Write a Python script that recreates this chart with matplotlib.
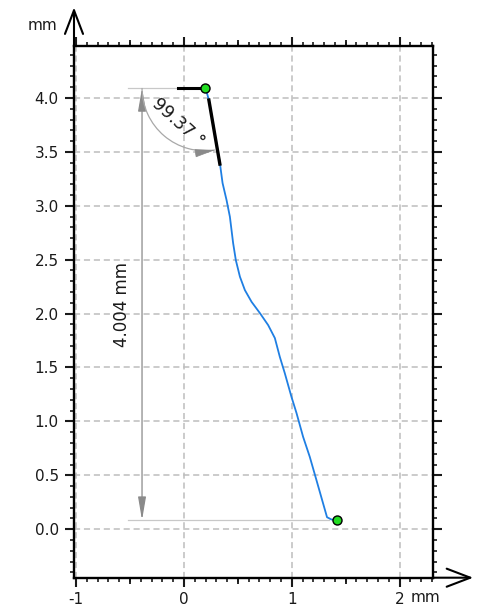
import matplotlib
matplotlib.use("Agg")
import matplotlib.pyplot as plt
from matplotlib.patches import Arc
from matplotlib.ticker import MultipleLocator
import numpy as np

# traced profile, mm
curve_x = [0.194, 0.212, 0.231, 0.260, 0.287, 0.312, 0.333, 0.358, 0.395, 0.426, 0.456,
           0.481, 0.519, 0.565, 0.627, 0.704, 0.781, 0.843, 0.889, 0.935, 0.997,
           1.044, 1.105, 1.167, 1.229, 1.290, 1.327, 1.368, 1.419]
curve_y = [4.093, 4.050, 3.981, 3.820, 3.657, 3.520, 3.397, 3.211, 3.053, 2.898, 2.654,
           2.496, 2.342, 2.218, 2.109, 2.005, 1.893, 1.773, 1.599, 1.448, 1.228,
           1.077, 0.857, 0.671, 0.455, 0.241, 0.111, 0.090, 0.084]

start_pt = (0.194, 4.093)
end_pt = (1.419, 0.084)
arm_x = [-0.056, 0.194]
tangent_x = [0.231, 0.333]
tangent_y = [3.981, 3.387]
angle_deg = 99.37
dist_mm = 4.004

x_ticks = [-1, 0, 1, 2]
x_half_ticks = [-0.5, 0.5, 1.5]
y_ticks = [0.0, 0.5, 1.0, 1.5, 2.0, 2.5, 3.0, 3.5, 4.0]

plt.rcParams['font.family'] = ['DejaVu Sans']
txt_col = '#1a1a1a'

fig = plt.figure(figsize=(4.8, 6.06), dpi=100)
ax = fig.add_axes([74 / 480, 28.3 / 606, 359 / 480, 532 / 606])
ax.set_xlim(-1.02, 2.31)
ax.set_ylim(-0.45, 4.485)

for s in ax.spines.values():
    s.set_linewidth(1.7)

ax.set_xticks(x_ticks)
ax.set_xticklabels([str(t) for t in x_ticks])
ax.set_yticks(y_ticks)
ax.set_yticklabels([f"{t:.1f}" for t in y_ticks])
ax.xaxis.set_minor_locator(MultipleLocator(0.1))
ax.yaxis.set_minor_locator(MultipleLocator(0.1))
ax.tick_params(which='both', direction='out', top=True, right=True, labelsize=11, colors=txt_col)
ax.tick_params(which='major', length=6.5, width=1.5, pad=4.5)
ax.tick_params(which='minor', length=2.6, width=1.2)
ax.tick_params(axis='x', which='major', pad=3.5)

for side in ('bottom', 'top'):
    sec = ax.secondary_xaxis(side)
    sec.set_xticks(x_half_ticks)
    sec.tick_params(direction='out', length=4.0, width=1.2, labelbottom=False, labeltop=False)
    for s in sec.spines.values():
        s.set_visible(False)

ax.grid(True, which='major', color='#bdbdbd', linestyle=(0, (4, 2.5)), linewidth=1.1)
ax.set_axisbelow(True)

# axis arrows
arrow_style = '->,head_length=1.7,head_width=0.65'
ax.annotate('', xy=(0, 1.072), xytext=(0, 1), xycoords='axes fraction', textcoords='axes fraction',
            arrowprops=dict(arrowstyle=arrow_style, lw=1.5, color='black', shrinkA=0, shrinkB=0,
                            mutation_scale=10), annotation_clip=False)
ax.annotate('', xy=(1.112, 0), xytext=(1, 0), xycoords='axes fraction', textcoords='axes fraction',
            arrowprops=dict(arrowstyle=arrow_style, lw=1.5, color='black', shrinkA=0, shrinkB=0,
                            mutation_scale=10), annotation_clip=False)
fig.text(57 / 480, 1 - 26 / 606, 'mm', ha='right', va='center', fontsize=11, color=txt_col)
fig.text(411 / 480, 1 - 598 / 606, 'mm', ha='left', va='center', fontsize=11, color=txt_col)

# dimension annotation
dim_x = start_pt[0] - 0.583
ext_left = dim_x - 0.13
ax.plot([ext_left, start_pt[0]], [start_pt[1]] * 2, color='#c8c8c8', lw=0.9, zorder=2)
ax.plot([ext_left, end_pt[0] - 0.07], [end_pt[1]] * 2, color='#c8c8c8', lw=0.9, zorder=2)
ax.annotate('', xy=(dim_x, end_pt[1]), xytext=(dim_x, start_pt[1]),
            arrowprops=dict(arrowstyle='<|-|>,head_length=14,head_width=2.4', mutation_scale=1,
                            color='#8a8a8a', lw=0.9, shrinkA=0, shrinkB=0), zorder=2)
ax.text(dim_x - 0.19, (start_pt[1] + end_pt[1]) / 2, f"{dist_mm:.3f} mm", rotation=90,
        ha='center', va='center', fontsize=12, color=txt_col)

# angle annotation
r = start_pt[0] - dim_x
th2 = 180 + angle_deg
ax.add_patch(Arc(start_pt, 2 * r, 2 * r, theta1=180, theta2=th2, color='#a8a8a8', lw=0.9, zorder=2))
tip = (start_pt[0] + r * np.cos(np.radians(th2)), start_pt[1] + r * np.sin(np.radians(th2)))
tdir = np.radians(th2 + 90)
ax.annotate('', xy=tip, xytext=(tip[0] - 0.17 * np.cos(tdir), tip[1] - 0.17 * np.sin(tdir)),
            arrowprops=dict(arrowstyle='-|>,head_length=13,head_width=2.6', mutation_scale=1,
                            color='#8a8a8a', lw=0.5, shrinkA=0, shrinkB=0), zorder=2)
ax.text(-0.05, 3.775, f"{angle_deg:.2f} °", rotation=-42, rotation_mode='anchor',
        ha='center', va='center', fontsize=12.5, color=txt_col)

# profile
ax.plot(curve_x, curve_y, color='#1f7fe3', lw=1.3, zorder=3)
ax.plot(arm_x, [start_pt[1]] * 2, color='black', lw=2.2, zorder=4)
ax.plot(tangent_x, tangent_y, color='black', lw=2.4, zorder=4)
ax.plot([start_pt[0], end_pt[0]], [start_pt[1], end_pt[1]], linestyle='none', marker='o',
        markersize=6.5, markerfacecolor='#22dd22', markeredgecolor='black', markeredgewidth=1.0, zorder=5)

fig.savefig('out.png', dpi=100)
